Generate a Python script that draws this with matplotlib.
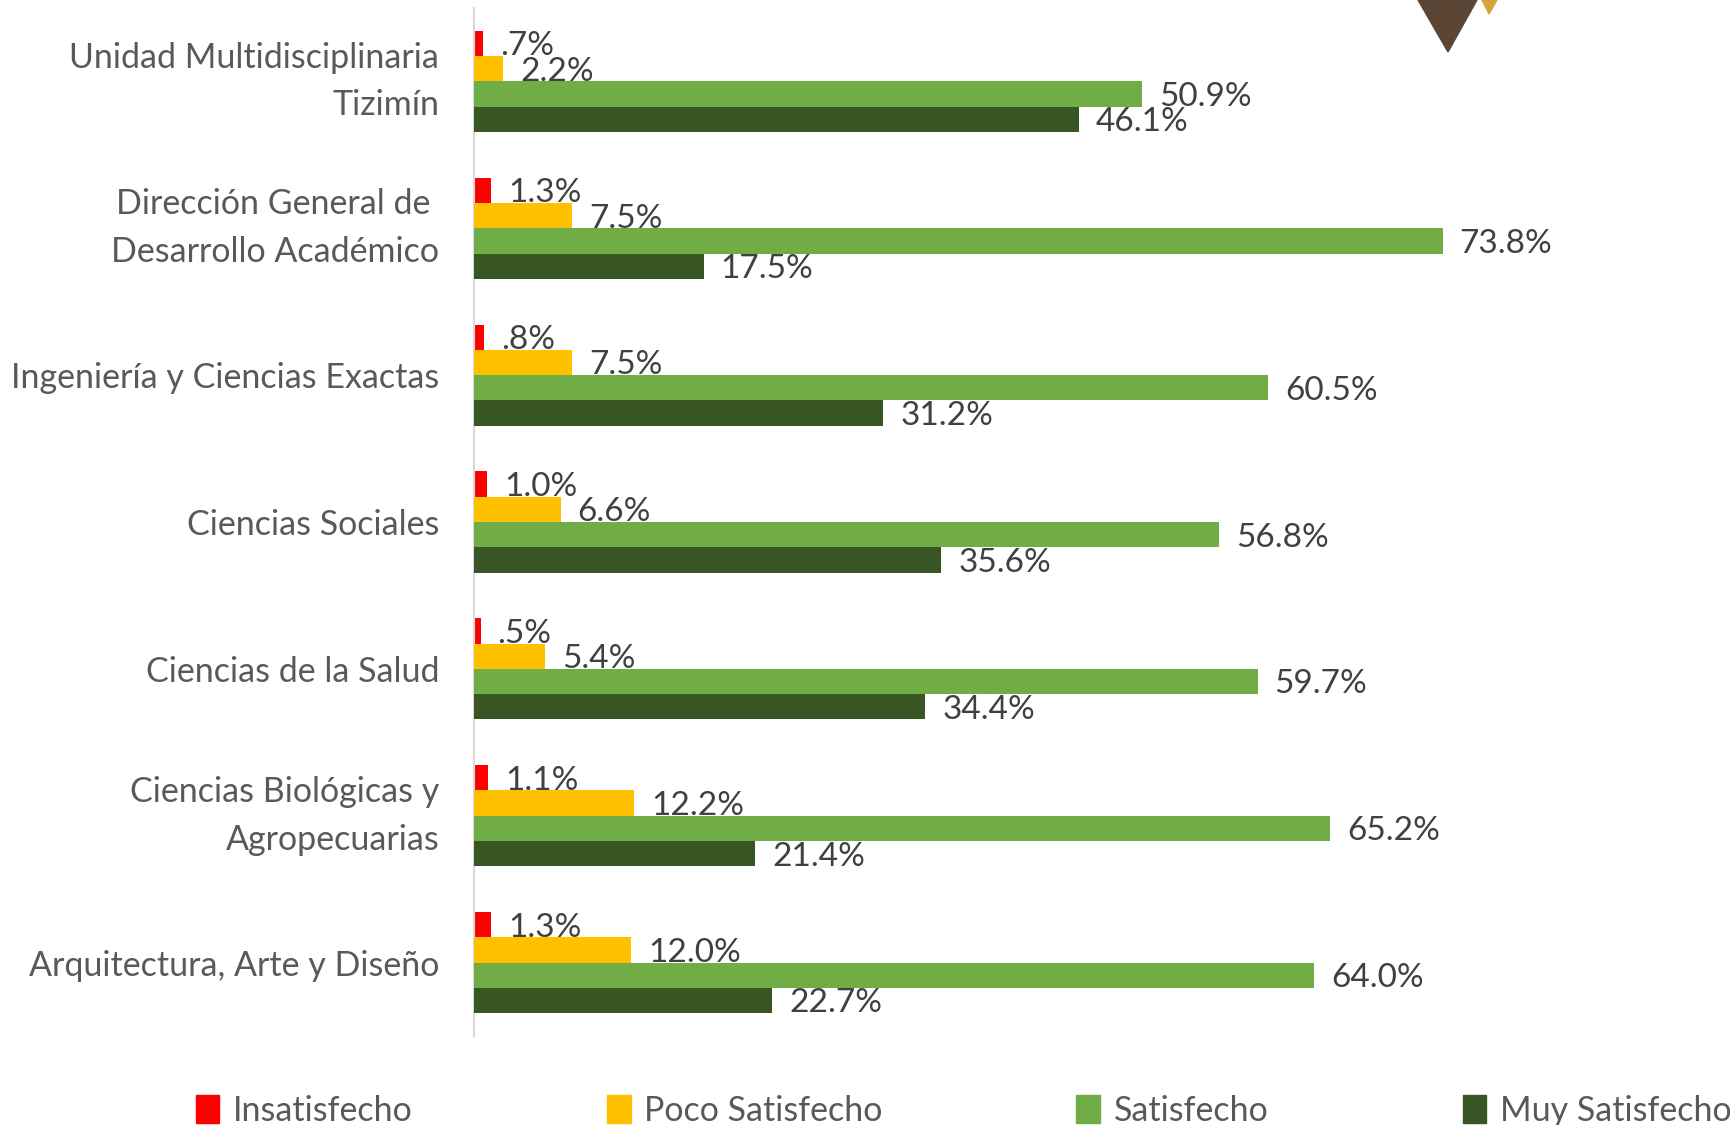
import numpy as np
import matplotlib
matplotlib.use('Agg')
import matplotlib.pyplot as plt
from matplotlib.patches import Polygon, Patch

plt.rcParams['font.family'] = ['Lato', 'DejaVu Sans']

categories = ['Unidad Multidisciplinaria\nTizimín',
              'Dirección General de \nDesarrollo Académico',
              'Ingeniería y Ciencias Exactas',
              'Ciencias Sociales',
              'Ciencias de la Salud',
              'Ciencias Biológicas y\nAgropecuarias',
              'Arquitectura, Arte y Diseño']
series_names = ['Insatisfecho', 'Poco Satisfecho', 'Satisfecho', 'Muy Satisfecho']
insatisfecho = [0.7, 1.3, 0.8, 1.0, 0.5, 1.1, 1.3]
poco = [2.2, 7.5, 7.5, 6.6, 5.4, 12.2, 12.0]
satisfecho = [50.9, 73.8, 60.5, 56.8, 59.7, 65.2, 64.0]
muy = [46.1, 17.5, 31.2, 35.6, 34.4, 21.4, 22.7]
colors = ['#FF0000', '#FFC000', '#70AD47', '#375623']

def fmt(v):
    s = '%.1f%%' % v
    if s.startswith('0'):
        s = s[1:]
    return s

fig = plt.figure(figsize=(17.3, 11.25), dpi=100)
ax = fig.add_axes([474/1730, 1-1036/1125, 1050/1730, 1028/1125])

y = np.arange(len(categories))
h = 0.172
data = [insatisfecho, poco, satisfecho, muy]
for k, vals in enumerate(data):
    pos = y - 1.5*h + k*h
    ax.barh(pos, vals, height=h, color=colors[k], zorder=2+k)
    for p, v in zip(pos, vals):
        ax.text(v + 1.3, p + 0.02, fmt(v), va='center', ha='left',
                fontsize=24, color='#404040', zorder=2.5+k)

ax.set_ylim(len(categories)-0.5, -0.5)
ax.set_xlim(0, 80)
ax.set_yticks(y)
ax.set_yticklabels(categories, fontsize=24.5, color='#595959', linespacing=1.6)
for lab in ax.get_yticklabels():
    if '\n' in lab.get_text():
        lab.set_va('center')
ax.tick_params(axis='y', length=0, pad=25)
ax.set_xticks([])
for s in ['top', 'right', 'bottom']:
    ax.spines[s].set_visible(False)
ax.spines['left'].set_color('#D9D9D9')
ax.spines['left'].set_linewidth(1.5)

# logo fragment top right
fig.patches.append(Polygon([[1418/1730, 1], [1477/1730, 1], [1448/1730, 1-52/1125]],
                           closed=True, transform=fig.transFigure, color='#5b4636'))
fig.patches.append(Polygon([[1482/1730, 1], [1497/1730, 1], [1489/1730, 1-14/1125]],
                           closed=True, transform=fig.transFigure, color='#d4a53a'))

handles = [Patch(color=c) for c in colors]
fig.legend(handles, series_names, loc='center', bbox_to_anchor=(0.557, 1-1111/1125),
           ncol=4, frameon=False, fontsize=24.5, labelcolor='#595959',
           handlelength=0.7, handleheight=0.9, handletextpad=0.4, columnspacing=5.7)

fig.savefig('out.png', dpi=100)
